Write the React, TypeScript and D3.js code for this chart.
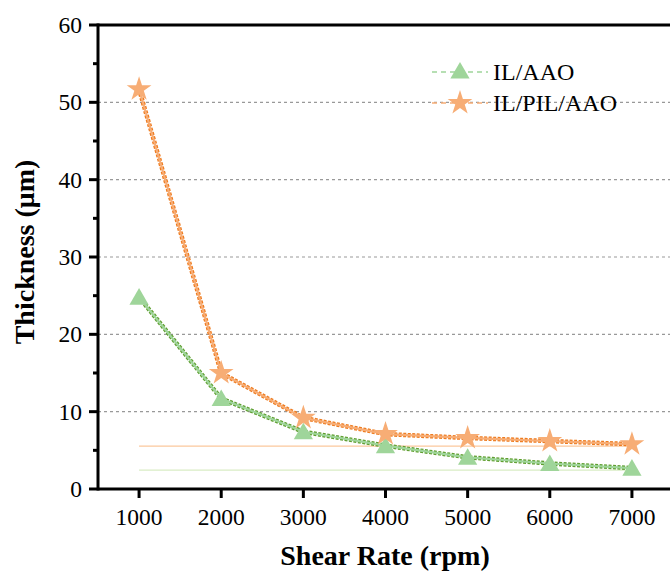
import React, { useEffect, useRef } from "react";
import * as d3 from "d3";

const shearRates = [1000, 2000, 3000, 4000, 5000, 6000, 7000];
const ilAao = [24.8, 11.7, 7.4, 5.6, 4.1, 3.3, 2.7];
const ilPilAao = [51.7, 15.0, 9.2, 7.1, 6.6, 6.2, 5.8];
const refLevelAao = 2.45;
const refLevelPil = 5.55;
const xTicks = [1000, 2000, 3000, 4000, 5000, 6000, 7000];
const yTicks = [0, 10, 20, 30, 40, 50, 60];
const yMinorTicks = [5, 15, 25, 35, 45, 55];
const gridValues = [10, 20, 30, 40, 50];

const W = 670;
const H = 572;
const FONT = "'Liberation Serif', 'Times New Roman', serif";

const App = () => {
  const svgRef = useRef<SVGSVGElement>(null);

  useEffect(() => {
    const svg = d3.select(svgRef.current);
    svg.selectAll("*").remove();

    const left = 98, top = 25, bottom = 489;
    const x = d3.scaleLinear().domain([500, 7500]).range([left, 673]);
    const y = d3.scaleLinear().domain([0, 60]).range([bottom, top]);

    // grid
    svg.append("g").selectAll("line").data(gridValues).join("line")
      .attr("x1", left).attr("x2", W)
      .attr("y1", d => y(d)).attr("y2", d => y(d))
      .attr("stroke", "#999").attr("stroke-width", 1.2)
      .attr("stroke-dasharray", "3,3");

    // thin reference lines
    const refs = [
      { v: refLevelPil, c: "#fbc89d" },
      { v: refLevelAao, c: "#d9ecc4" },
    ];
    svg.append("g").selectAll("line").data(refs).join("line")
      .attr("x1", x(1000)).attr("x2", x(7000))
      .attr("y1", d => y(d.v)).attr("y2", d => y(d.v))
      .attr("stroke", d => d.c).attr("stroke-width", 1.2);

    const series = [
      { name: "IL/AAO", vals: ilAao, light: "#9fd59a", dark: "#5f9e2f", marker: "tri" },
      { name: "IL/PIL/AAO", vals: ilPilAao, light: "#f7ad75", dark: "#ee7b1f", marker: "star" },
    ];

    const line = d3.line<number>()
      .x((_, i) => x(shearRates[i]))
      .y(d => y(d));

    const triSym = d3.symbol().type(d3.symbolTriangle).size(160);
    const starSym = d3.symbol().type(d3.symbolStar).size(190);

    series.forEach(s => {
      const g = svg.append("g");
      g.append("path").attr("d", line(s.vals))
        .attr("fill", "none").attr("stroke", s.dark)
        .attr("stroke-width", 4.5).attr("stroke-dasharray", "3,1.5");
      g.append("path").attr("d", line(s.vals))
        .attr("fill", "none").attr("stroke", s.light)
        .attr("stroke-width", 2.2);
      g.selectAll("path.m").data(s.vals).join("path")
        .attr("class", "m")
        .attr("transform", (d, i) => `translate(${x(shearRates[i])},${y(d) + (s.marker === "tri" ? 2 : 0)})`)
        .attr("d", s.marker === "tri" ? triSym() : starSym())
        .attr("fill", s.light);
    });

    // axes frame
    const axisColor = "#000";
    svg.append("line").attr("x1", left).attr("x2", left)
      .attr("y1", top - 1.5).attr("y2", bottom + 1.5)
      .attr("stroke", axisColor).attr("stroke-width", 3);
    svg.append("line").attr("x1", left).attr("x2", W)
      .attr("y1", top).attr("y2", top)
      .attr("stroke", axisColor).attr("stroke-width", 3);
    svg.append("line").attr("x1", left).attr("x2", W)
      .attr("y1", bottom).attr("y2", bottom)
      .attr("stroke", axisColor).attr("stroke-width", 3);

    // y ticks
    svg.append("g").selectAll("line").data(yTicks).join("line")
      .attr("x1", left - 9).attr("x2", left)
      .attr("y1", d => y(d)).attr("y2", d => y(d))
      .attr("stroke", axisColor).attr("stroke-width", 3);
    svg.append("g").selectAll("line").data(yMinorTicks).join("line")
      .attr("x1", left - 5).attr("x2", left)
      .attr("y1", d => y(d)).attr("y2", d => y(d))
      .attr("stroke", axisColor).attr("stroke-width", 3);
    svg.append("g").selectAll("text").data(yTicks).join("text")
      .attr("x", left - 16).attr("y", d => y(d) + 8)
      .attr("text-anchor", "end")
      .attr("font-family", FONT).attr("font-size", 23.5)
      .text(d => d);

    // x ticks
    svg.append("g").selectAll("line").data(xTicks).join("line")
      .attr("x1", d => x(d)).attr("x2", d => x(d))
      .attr("y1", bottom).attr("y2", bottom + 9)
      .attr("stroke", axisColor).attr("stroke-width", 3);
    svg.append("g").selectAll("text").data(xTicks).join("text")
      .attr("x", d => x(d)).attr("y", bottom + 36)
      .attr("text-anchor", "middle")
      .attr("font-family", FONT).attr("font-size", 23.5)
      .text(d => d);

    // axis titles
    svg.append("text")
      .attr("x", 385).attr("y", 565)
      .attr("text-anchor", "middle")
      .attr("font-family", FONT).attr("font-size", 28).attr("font-weight", "bold")
      .text("Shear Rate (rpm)");
    svg.append("text")
      .attr("transform", `translate(34,${252}) rotate(-90)`)
      .attr("text-anchor", "middle")
      .attr("font-family", FONT).attr("font-size", 28).attr("font-weight", "bold")
      .text("Thickness (μm)");

    // legend
    const lg = svg.append("g");
    series.forEach((s, i) => {
      const ly = 72 + i * 31;
      lg.append("line").attr("x1", 432).attr("x2", 488)
        .attr("y1", ly).attr("y2", ly)
        .attr("stroke", s.light).attr("stroke-width", 1.5)
        .attr("stroke-dasharray", "5,4");
      lg.append("path")
        .attr("transform", `translate(460,${ly + (s.marker === "tri" ? 1 : 0)})`)
        .attr("d", s.marker === "tri" ? triSym() : starSym())
        .attr("fill", s.light);
      lg.append("text").attr("x", 493).attr("y", ly + 8)
        .attr("font-family", FONT).attr("font-size", 24)
        .text(s.name);
    });
  }, []);

  return (
    <svg ref={svgRef} width={W} height={H}
      style={{ position: "absolute", left: 0, top: 0, background: "#fff" }} />
  );
};

export default App;
